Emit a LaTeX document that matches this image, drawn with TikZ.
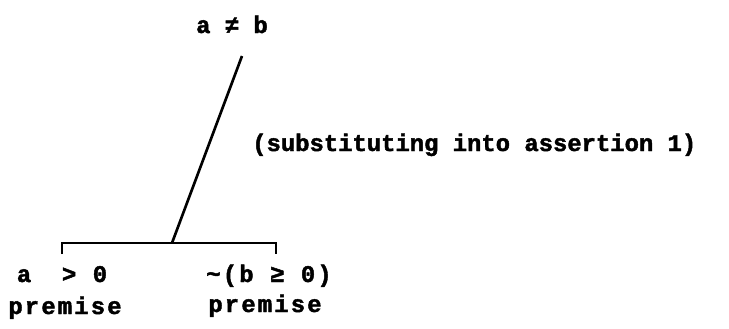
\documentclass[tikz,border=0pt]{standalone}
\usepackage{fontspec}
\setmonofont[BoldFont=Liberation Mono Bold, BoldFeatures={FakeBold=1.8}]{Liberation Mono}
\newfontfamily\wide[LetterSpace=9, FakeBold=1.8]{Liberation Mono Bold}
\usetikzlibrary{positioning, calc}

\begin{document}
\begin{tikzpicture}[x=0.0265cm, y=-0.0265cm,
	font=\ttfamily\bfseries\fontsize{18}{20}\selectfont,
	txt/.style={inner sep=0pt, anchor=base},
	big/.style={txt, font=\wide\fontsize{18}{20}\selectfont},
	ln/.style={line width=2pt, line cap=butt}]

	\useasboundingbox (0,0) rectangle (729,328);

	\node[txt] (goal) at (232,33) {a ≠ b};
	\node[big] (lhs) at (62,282) {a\hspace{0.6em} > 0};
	\node[big] (rhs) at (269,282) {\textasciitilde(b ≥ 0)};
	\node[big] (premL) at (65,314) {premise};
	\node[big] (premR) at (265,312) {premise};
	\node[txt, anchor=base west] (why) at (252,151) {(substituting into assertion 1)};

	\coordinate (top) at (242,56);
	\coordinate (join) at (172,243);
	\coordinate (tickL) at (62,254);
	\coordinate (tickR) at (276,254);

	\draw[ln] (tickL) |- (join) -| (tickR);
	\draw[ln] (join) -- (top);
\end{tikzpicture}
\end{document}
